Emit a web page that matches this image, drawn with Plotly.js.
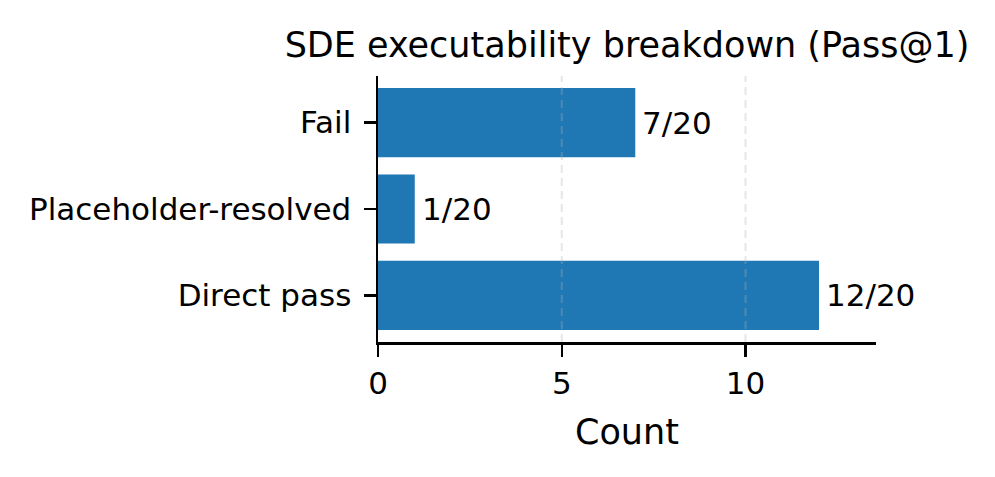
<!DOCTYPE html>
<html>
<head>
<meta charset="utf-8">
<script src="https://cdn.plot.ly/plotly-3.0.1.min.js"></script>
<style>html,body{margin:0;padding:0;background:#fff;}#chart{width:995px;height:477px;}</style>
</head>
<body>
<div id="chart"></div>
<script>
const categories = ["Direct pass", "Placeholder-resolved", "Fail"];
const counts = [12, 1, 7];
const total = 20;
const barLabels = ["12/20", "1/20", "7/20"];
const xTickVals = [0, 5, 10];
const gridVals = [5, 10];

const FONT = "DejaVu Sans, Verdana, sans-serif";

const trace = {
  type: "bar",
  orientation: "h",
  y: categories,
  x: counts,
  width: 0.8,
  marker: { color: "#1f77b4", line: { width: 0 } },
  hoverinfo: "skip"
};

const shapes = gridVals.map(v => ({
  type: "line", xref: "x", yref: "paper",
  x0: v, x1: v, y0: 0, y1: 1,
  layer: "above",
  line: { color: "rgba(176,176,176,0.32)", width: 2, dash: "8px,5px" }
}));

const annotations = categories.map((c, i) => ({
  x: counts[i], y: c, xref: "x", yref: "y",
  text: barLabels[i], showarrow: false,
  xanchor: "left", yanchor: "middle", xshift: 5,
  font: { family: FONT, size: 31, color: "#000" }
}));

const layout = {
  width: 995, height: 477,
  paper_bgcolor: "#fff", plot_bgcolor: "#fff",
  margin: { l: 378, r: 119, t: 76, b: 135, pad: 0 },
  showlegend: false,
  font: { family: FONT, color: "#000" },
  title: {
    text: "SDE executability breakdown (Pass@1)",
    font: { family: FONT, size: 35, color: "#000" },
    xref: "paper", x: 0.5, xanchor: "center",
    yref: "container", y: 0.907, yanchor: "middle"
  },
  xaxis: {
    range: [0, 13.55],
    tickvals: xTickVals,
    ticktext: xTickVals.map(String),
    ticks: "outside", ticklen: 12, tickwidth: 2.5, tickcolor: "#000",
    showline: true, linecolor: "#000", linewidth: 2.5,
    showgrid: false, zeroline: false,
    tickfont: { family: FONT, size: 31, color: "#000" },
    title: { text: "Count", font: { family: FONT, size: 35, color: "#000" }, standoff: 20 }
  },
  yaxis: {
    type: "category",
    categoryorder: "array", categoryarray: categories,
    range: [-0.54, 2.54],
    ticks: "outside", ticklen: 12, tickwidth: 2.5, tickcolor: "#000",
    showline: true, linecolor: "#000", linewidth: 2.5,
    showgrid: false, zeroline: false,
    tickfont: { family: FONT, size: 31, color: "#000" },
    ticklabelstandoff: 6
  },
  shapes: shapes,
  annotations: annotations
};

Plotly.newPlot("chart", [trace], layout, { staticPlot: true, displayModeBar: false });
</script>
</body>
</html>
